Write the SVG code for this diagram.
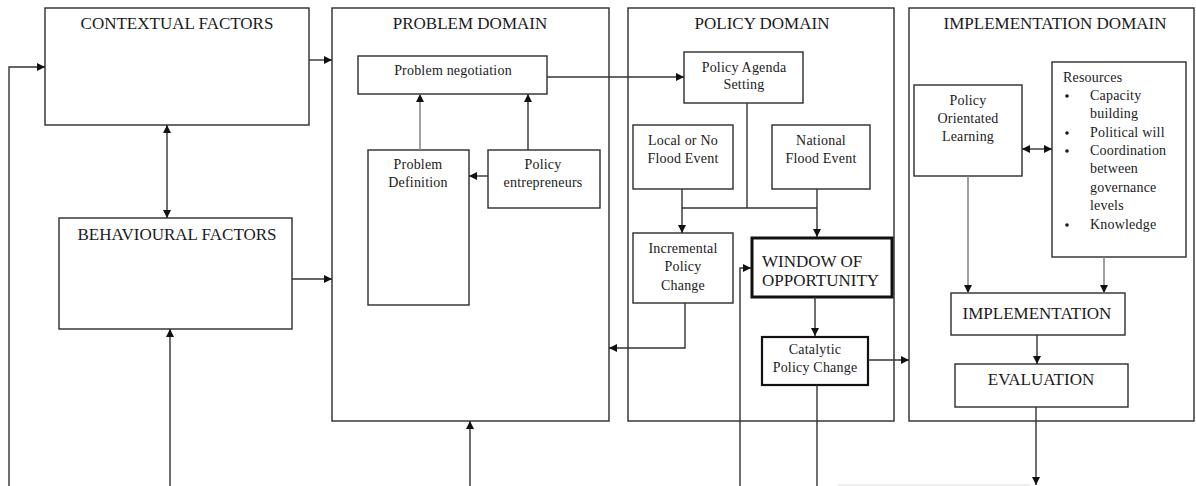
<svg xmlns="http://www.w3.org/2000/svg" width="1196" height="486" viewBox="0 0 1196 486">
<style>
  .box { fill: #ffffff; stroke: #2b2b2b; stroke-width: 1.4; }
  .thick { fill: #ffffff; stroke: #111111; stroke-width: 3; }
  .mid { fill: #ffffff; stroke: #111111; stroke-width: 2.2; }
  .t { font-family: "Liberation Serif", "Times New Roman", serif; fill: #1a1a22; text-anchor: middle; }
  .title { font-size: 17px; }
  .small { font-size: 14px; letter-spacing: 0.2px; }
  .big { font-size: 17px; }
  .left { text-anchor: start; }
  .c { fill: none; stroke: #333333; stroke-width: 1.4; }
  .g { fill: none; stroke: #8a8a8a; stroke-width: 1.6; }
  .faint { fill: none; stroke: #dddddd; stroke-width: 1.2; }
</style>
<defs>
  <marker id="ah" viewBox="0 0 10 10" refX="10" refY="5" markerWidth="8" markerHeight="8" markerUnits="userSpaceOnUse" orient="auto-start-reverse">
    <path d="M0,0 L10,5 L0,10 z" fill="#111111"/>
  </marker>
</defs>

<g id="contextual-factors">
  <rect class="box" x="45" y="8" width="264" height="117"/>
  <text class="t title" x="177" y="29">CONTEXTUAL FACTORS</text>
</g>
<g id="behavioural-factors">
  <rect class="box" x="59" y="218" width="233" height="111"/>
  <text class="t title" x="177" y="240">BEHAVIOURAL FACTORS</text>
</g>

<g id="problem-domain">
  <rect class="box" x="332" y="8" width="277" height="413"/>
  <text class="t title" x="470" y="29">PROBLEM DOMAIN</text>
</g>
<g id="problem-negotiation">
  <rect class="box" x="358" y="56" width="189" height="38"/>
  <text class="t small" x="453" y="75">Problem negotiation</text>
</g>
<g id="problem-definition">
  <rect class="box" x="368" y="150" width="101" height="155"/>
  <text class="t small" x="418" y="169">Problem</text>
  <text class="t small" x="418" y="187">Definition</text>
</g>
<g id="policy-entrepreneurs">
  <rect class="box" x="488" y="150" width="112" height="58"/>
  <text class="t small" x="543" y="169">Policy</text>
  <text class="t small" x="543" y="187">entrepreneurs</text>
</g>

<g id="policy-domain">
  <rect class="box" x="628" y="8" width="266" height="413"/>
  <text class="t title" x="762" y="29">POLICY DOMAIN</text>
</g>
<g id="policy-agenda-setting">
  <rect class="box" x="684" y="52" width="119" height="51"/>
  <text class="t small" x="744" y="72">Policy Agenda</text>
  <text class="t small" x="744" y="89">Setting</text>
</g>
<g id="local-flood-event">
  <rect class="box" x="633" y="125" width="100" height="64"/>
  <text class="t small" x="683" y="145">Local or No</text>
  <text class="t small" x="683" y="163">Flood Event</text>
</g>
<g id="national-flood-event">
  <rect class="box" x="772" y="125" width="98" height="64"/>
  <text class="t small" x="821" y="145">National</text>
  <text class="t small" x="821" y="163">Flood Event</text>
</g>
<g id="incremental-policy-change">
  <rect class="box" x="633" y="233" width="100" height="70"/>
  <text class="t small" x="683" y="253">Incremental</text>
  <text class="t small" x="683" y="271">Policy</text>
  <text class="t small" x="683" y="290">Change</text>
</g>
<g id="window-of-opportunity">
  <rect class="thick" x="752" y="238" width="140" height="59"/>
  <text class="t big left" x="762" y="267">WINDOW OF</text>
  <text class="t big left" x="762" y="286">OPPORTUNITY</text>
</g>
<g id="catalytic-policy-change">
  <rect class="mid" x="762" y="337" width="106" height="48"/>
  <text class="t small" x="815" y="354">Catalytic</text>
  <text class="t small" x="815" y="372">Policy Change</text>
</g>

<g id="implementation-domain">
  <rect class="box" x="909" y="8" width="285" height="413"/>
  <text class="t title" x="1055" y="29">IMPLEMENTATION DOMAIN</text>
</g>
<g id="policy-orientated-learning">
  <rect class="box" x="914" y="85" width="108" height="91"/>
  <text class="t small" x="968" y="105">Policy</text>
  <text class="t small" x="968" y="123">Orientated</text>
  <text class="t small" x="968" y="141">Learning</text>
</g>
<g id="resources">
  <rect class="box" x="1052" y="62" width="134" height="195"/>
  <text class="t small left" x="1063" y="82">Resources</text>
  <circle cx="1067" cy="96" r="1.8" fill="#1a1a1a"/>
  <circle cx="1067" cy="133" r="1.8" fill="#1a1a1a"/>
  <circle cx="1067" cy="151" r="1.8" fill="#1a1a1a"/>
  <circle cx="1067" cy="225" r="1.8" fill="#1a1a1a"/>
  <text class="t small left" x="1090" y="100">Capacity</text>
  <text class="t small left" x="1090" y="118">building</text>
  <text class="t small left" x="1090" y="137">Political will</text>
  <text class="t small left" x="1090" y="155">Coordination</text>
  <text class="t small left" x="1090" y="173">between</text>
  <text class="t small left" x="1090" y="192">governance</text>
  <text class="t small left" x="1090" y="210">levels</text>
  <text class="t small left" x="1090" y="229">Knowledge</text>
</g>
<g id="implementation">
  <rect class="box" x="951" y="293" width="174" height="42"/>
  <text class="t big" x="1037" y="319">IMPLEMENTATION</text>
</g>
<g id="evaluation">
  <rect class="box" x="955" y="364" width="173" height="43"/>
  <text class="t big" x="1041" y="385">EVALUATION</text>
</g>

<g id="connectors">
  <polyline class="c" points="9,486 9,67 45,67" marker-end="url(#ah)"/>
  <line class="c" x1="309" y1="60" x2="332" y2="60" marker-end="url(#ah)"/>
  <line class="c" x1="292" y1="279" x2="332" y2="279" marker-end="url(#ah)"/>
  <line class="c" x1="167" y1="125" x2="167" y2="218" marker-start="url(#ah)" marker-end="url(#ah)"/>
  <line class="c" x1="170" y1="486" x2="170" y2="329" marker-end="url(#ah)"/>
  <line class="c" x1="470" y1="486" x2="470" y2="421" marker-end="url(#ah)"/>
  <line class="g" x1="420" y1="150" x2="420" y2="94" marker-end="url(#ah)"/>
  <line class="c" x1="528" y1="150" x2="528" y2="94" marker-end="url(#ah)"/>
  <line class="c" x1="488" y1="176" x2="469" y2="176" marker-end="url(#ah)"/>
  <line class="c" x1="547" y1="77" x2="684" y2="77" marker-end="url(#ah)"/>
  <line class="c" x1="747" y1="103" x2="747" y2="208"/>
  <line class="c" x1="682" y1="189" x2="682" y2="233" marker-end="url(#ah)"/>
  <line class="c" x1="682" y1="208" x2="817" y2="208"/>
  <line class="c" x1="817" y1="189" x2="817" y2="237" marker-end="url(#ah)"/>
  <polyline class="c" points="685,303 685,348 609,348" marker-end="url(#ah)"/>
  <polyline class="c" points="740,486 740,268 751,268" marker-end="url(#ah)"/>
  <line class="c" x1="815" y1="297" x2="815" y2="336" marker-end="url(#ah)"/>
  <line class="c" x1="868" y1="360" x2="909" y2="360" marker-end="url(#ah)"/>
  <line class="c" x1="817" y1="385" x2="817" y2="486"/>
  <line class="c" x1="1022" y1="149" x2="1052" y2="149" marker-start="url(#ah)" marker-end="url(#ah)"/>
  <line class="g" x1="968" y1="176" x2="968" y2="293" marker-end="url(#ah)"/>
  <line class="g" x1="1104" y1="257" x2="1104" y2="293" marker-end="url(#ah)"/>
  <line class="c" x1="1037" y1="335" x2="1037" y2="364" marker-end="url(#ah)"/>
  <line class="c" x1="1036" y1="407" x2="1036" y2="485" marker-end="url(#ah)"/>
  <line class="faint" x1="838" y1="485" x2="1030" y2="485"/>
</g>
</svg>
